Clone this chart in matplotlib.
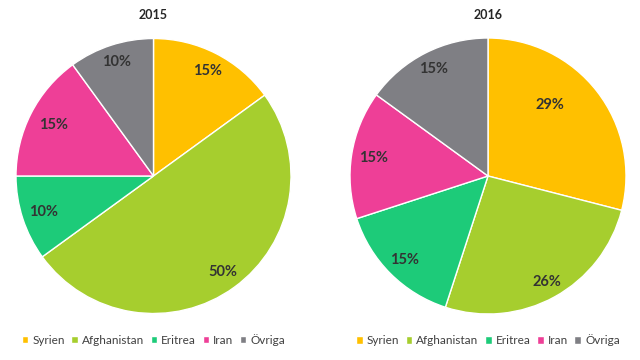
import numpy as np
import matplotlib
matplotlib.use('Agg')
import matplotlib.pyplot as plt

plt.rcParams['font.family'] = ['Lato', 'DejaVu Sans']

labels = ['Syrien', 'Afghanistan', 'Eritrea', 'Iran', 'Övriga']
values_2015 = [15, 50, 10, 15, 10]
values_2016 = [29, 26, 15, 15, 15]
colors = ['#FFC000', '#A6CE2E', '#1DCB79', '#EE3F97', '#7F7F84']

# afstand och vinkeljustering for procenttexten, per tårtbit
dist_2015 = [0.86, 0.86, 0.84, 0.82, 0.87]
dist_2016 = [0.68, 0.88, 0.86, 0.84, 0.87]
shift_2015 = [0, 0, 0, 0, 0]
shift_2016 = [11, 0, 0, 0, 0]


def draw_pie(ax, values, title, dist, shift):
    wedges, _ = ax.pie(values, colors=colors, startangle=90, counterclock=False,
                       wedgeprops=dict(edgecolor='white', linewidth=1))
    for w, v, d, s in zip(wedges, values, dist, shift):
        ang = np.deg2rad((w.theta1 + w.theta2) / 2 + s)
        ax.text(d * np.cos(ang), d * np.sin(ang), '%d%%' % v, ha='center', va='center',
                fontsize=10.5, fontweight='bold', color='#333333')
    ax.set_xlim(-1, 1)
    ax.set_ylim(-1, 1)
    ax.set_title(title, fontsize=9, fontweight='bold', color='#262626', pad=14)
    ax.legend(wedges, labels, loc='upper center', bbox_to_anchor=(0.5, -0.035),
              ncol=5, frameon=False, fontsize=8.5, handlelength=0.55, handleheight=0.55,
              handletextpad=0.35, columnspacing=0.55, labelcolor='#404040')


fig = plt.figure(figsize=(6.4, 3.6), dpi=100)
ax1 = fig.add_axes([16 / 640, 46 / 360, 275 / 640, 276 / 360])
ax2 = fig.add_axes([350 / 640, 46 / 360, 276 / 640, 276 / 360])
draw_pie(ax1, values_2015, '2015', dist_2015, shift_2015)
draw_pie(ax2, values_2016, '2016', dist_2016, shift_2016)

fig.savefig('out.png', dpi=100)
